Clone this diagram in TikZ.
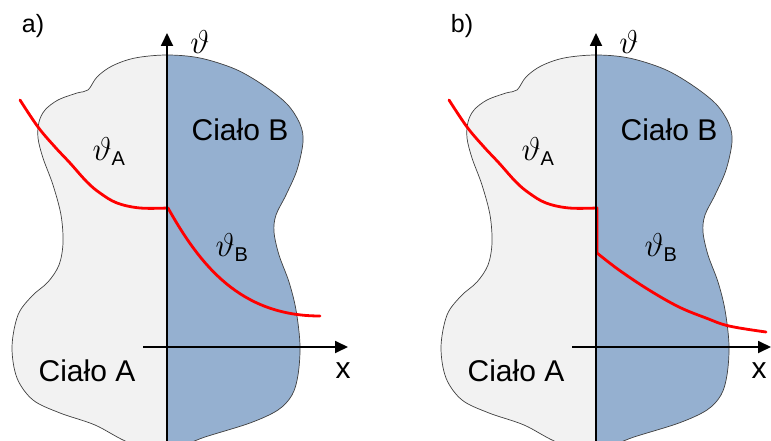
\RequirePackage{fix-cm}
\documentclass[tikz,border=0pt]{standalone}
\usepackage{amsmath}
\usepackage{fontspec}
\setmainfont{Liberation Sans}
\usetikzlibrary{arrows.meta, positioning}
\definecolor{bodyA}{HTML}{F2F2F2}
\definecolor{bodyB}{HTML}{95B0D0}
\definecolor{outline}{HTML}{404040}

\begin{document}
\begin{tikzpicture}[x=1pt, y=-1pt,
  every node/.style={inner sep=0pt},
  axis/.style={line width=1.8pt, -{Triangle[length=13pt, width=12pt]}},
  redline/.style={red, line width=2.8pt, line join=round, line cap=round},
  bodyline/.style={draw=outline, line width=0.7pt},
  bigtext/.style={font=\fontsize{30}{32}\selectfont},
  symtext/.style={font=\fontsize{25}{28}\selectfont},
  thetatext/.style={font=\fontsize{33}{36}\selectfont}
]
  \useasboundingbox (0,0) rectangle (771,441);
  \clip (0,0) rectangle (771,441);

  \def\sub#1{_{\text{\fontsize{20}{22}\selectfont #1}}}

  % outline of both bodies
  \def\blob{plot[smooth cycle, tension=0.55] coordinates {
    (167,55) (200,58) (235,69) (263,85) (287,104) (300,124) (303,142)
    (297,170) (286,195) (276,215) (274,232) (279,255) (289,282) (296,310)
    (300,345) (298,375) (292,395) (278,410) (250,423) (205,437) (167,450)
    (130,443) (95,425) (60,413) (33,400) (17,378) (12,347) (18,315)
    (32,296) (48,282) (59,265) (63,243) (61,215) (53,185) (43,158)
    (38,138) (39,122) (45,110) (58,100) (77,93) (88,90) (97,77)
    (112,66) (135,58)}}

  \def\panel#1#2#3#4{%
    \begin{scope}[xshift=#1]
      \fill[bodyA] \blob;
      \begin{scope}
        \clip (167,0) rectangle (400,460);
        \fill[bodyB] \blob;
      \end{scope}
      \draw[bodyline] \blob;

      \coordinate (#2-top) at (167,33);
      \coordinate (#2-bot) at (167,441);
      \coordinate (#2-left) at (143,347);
      \coordinate (#2-right) at (#3,347);

      \node[symtext] (#2-label) at (33,26) {#2)};
      \node[thetatext] (#2-theta) at (200,42) {$\vartheta$};
      \node[bigtext] (#2-bodyB) at (240,130) {Ciało B};
      \node[bigtext] (#2-bodyA) at (87,371) {Ciało A};
      \node[thetatext] (#2-thetaA) at (109,152) {$\vartheta\sub{A}$};
      \node[thetatext] (#2-thetaB) at (232,248) {$\vartheta\sub{B}$};
      \node[bigtext] (#2-x) at (#4,371) {x};
    \end{scope}
  }

  \panel{0}{a}{348}{343}
  \panel{429}{b}{342}{330}

  % temperature profiles
  \draw[redline] plot[smooth, tension=0.6] coordinates {
      (20,100) (38,127) (55,147) (70,163) (87,182) (100,193) (117,203)
      (140,208) (168,208)}
    .. controls (200,265) and (240,316) .. (320,316);

  \begin{scope}[xshift=429]
    \draw[redline] plot[smooth, tension=0.6] coordinates {
        (20,100) (38,127) (55,147) (70,163) (87,182) (100,193) (117,203)
        (140,208) (168,208)}
      -- (168,253)
      -- plot[smooth, tension=0.6] coordinates {
        (168,253) (190,270) (220,290) (250,307) (277,318) (300,326)
        (337,332)};
  \end{scope}

  \draw[axis] (a-bot) -- (a-top);
  \draw[axis] (a-left) -- (a-right);
  \draw[axis] (b-bot) -- (b-top);
  \draw[axis] (b-left) -- (b-right);
\end{tikzpicture}
\end{document}
